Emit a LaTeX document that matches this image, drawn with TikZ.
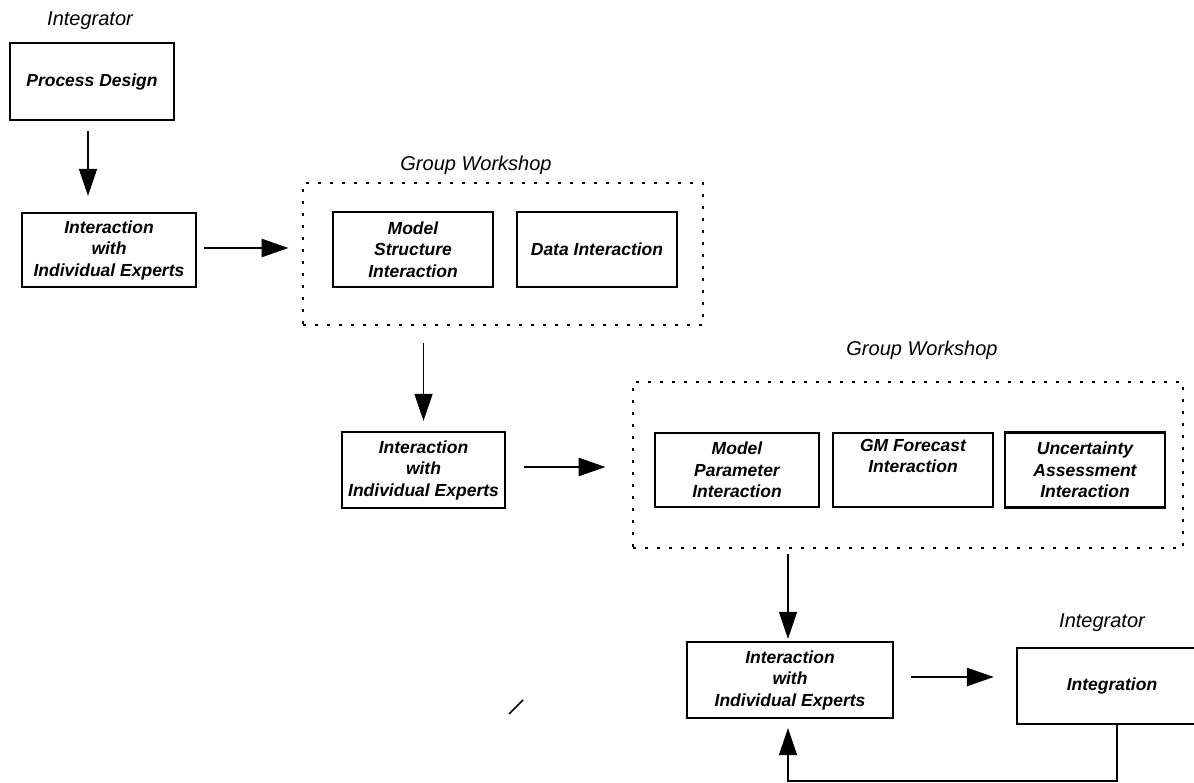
\documentclass[tikz,border=0pt]{standalone}
\usepackage{fontspec}
\setmainfont{Liberation Sans}
\usetikzlibrary{arrows.meta}
\tikzset{
  boxtext/.style={font=\fontsize{17.5}{21.5}\selectfont\bfseries\itshape, align=center},
  solidbox/.style={boxtext, draw, line width=2.2pt, inner sep=0pt, rectangle},
  dotbox/.style={draw, line width=2.8pt, dash pattern=on 2.8pt off 9.2pt, inner sep=0pt, rectangle},
  grouplabel/.style={font=\fontsize{20}{24}\selectfont\itshape},
  thickarrow/.style={line width=2.6pt, -{Triangle[length=27pt,width=18pt]}},
  thinarrow/.style={line width=1.5pt, -{Triangle[length=27pt,width=18pt]}},
}
\begin{document}
\begin{tikzpicture}[x=1pt,y=-1pt]
\useasboundingbox (0,0) rectangle (1194,783);
\clip (0,0) rectangle (1194,783);
\fill[white] (0,0) rectangle (1194,783);

% labels
\node[grouplabel] (lint1) at (90,21) {Integrator};
\node[grouplabel] (lgw1) at (476,165) {Group Workshop};
\node[grouplabel] (lgw2) at (922,350) {Group Workshop};
\node[grouplabel] (lint2) at (1102,623) {Integrator};

% boxes
\node[solidbox, minimum width=164pt, minimum height=77pt] (pd) at (92,81.5) {Process Design};
\node[solidbox, minimum width=174pt, minimum height=74pt] (b1) at (109,250) {Interaction\\with\\Individual Experts};
\node[dotbox, minimum width=400pt, minimum height=142pt] (gw1) at (503,254) {};
\node[solidbox, minimum width=160pt, minimum height=75pt] (ms) at (413,249.5) {Model\\Structure\\Interaction};
\node[solidbox, minimum width=160pt, minimum height=75pt] (di) at (597,249.5) {Data Interaction};
\node[solidbox, minimum width=163pt, minimum height=76pt] (b2) at (423.5,470) {Interaction\\with\\Individual Experts};
\node[dotbox, minimum width=550pt, minimum height=166pt] (gw2) at (908,465) {};
\node[solidbox, minimum width=164pt, minimum height=74pt] (mp) at (737,470) {Model\\Parameter\\Interaction};
\node[solidbox, minimum width=160pt, minimum height=74pt] (gm) at (913,470) {GM Forecast\\Interaction\\\strut};
\node[solidbox, minimum width=160pt, minimum height=75pt] (ua) at (1085,470) {Uncertainty\\Assessment\\Interaction};
\node[solidbox, minimum width=206pt, minimum height=76pt] (b3) at (790,680) {Interaction\\with\\Individual Experts};
\node[solidbox, minimum width=190pt, minimum height=76pt] (ig) at (1112,686) {Integration};

% connectors
\draw[thinarrow, shorten >=16pt] ([xshift=-4pt,yshift=-10pt]pd.south) -- ([xshift=-4pt]pd.south |- b1.north);
\draw[thickarrow, shorten >=13pt] ([xshift=7pt,yshift=2pt]b1.east) -- ([yshift=2pt]b1.east -| gw1.west);
\draw[thinarrow, shorten >=10pt] ([yshift=-17pt]b2.north |- gw1.south) -- (b2.north);
\draw[thickarrow, shorten >=26pt] ([xshift=18pt,yshift=3pt]b2.east) -- ([yshift=3pt]b2.east -| gw2.west);
\draw[thinarrow, shorten >=2pt] ([xshift=-2pt,yshift=-5pt]b3.north |- gw2.south) -- ([xshift=-2pt]b3.north);
\draw[thickarrow, shorten >=22pt] ([xshift=17pt,yshift=3pt]b3.east) -- ([yshift=3pt]b3.east -| ig.west);
\coordinate (fb) at (0,781);
\draw[thinarrow, shorten >=9pt] ([xshift=5pt]ig.south) -- ([xshift=5pt]ig.south |- fb) -| ([xshift=-2pt]b3.south);

% stray mark
\draw[line width=1.6pt] (509,714) -- (523,700);
\end{tikzpicture}
\end{document}
